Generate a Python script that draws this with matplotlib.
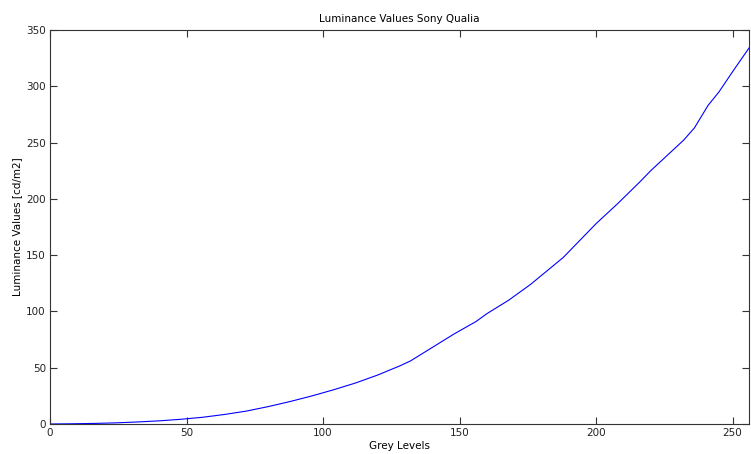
import matplotlib
matplotlib.use('Agg')
import matplotlib.pyplot as plt

# measured luminance per grey level
grey = [0, 8, 16, 24, 32, 40, 48, 56, 64, 72, 80, 88, 96, 104, 112, 120,
        128, 132, 140, 148, 156, 160, 168, 176, 184, 188, 196, 200, 208, 216,
        220, 228, 232, 236, 238, 241, 245, 250, 256]
lum = [0, 0.2, 0.5, 1.0, 1.8, 2.8, 4.2, 6.0, 8.5, 11.5, 15.5, 20.0, 25.0, 30.5,
       36.5, 43.5, 51.5, 56.0, 68.0, 80.0, 91.0, 98.0, 110.0, 124.0, 140.0,
       148.0, 168.0, 178.0, 196.0, 215.0, 225.0, 243.0, 252.0, 263.0, 271.0,
       283.0, 295.0, 313.0, 334.0]

plt.rcParams['font.family'] = 'DejaVu Sans'
plt.rcParams['font.size'] = 7.5

fig = plt.figure(figsize=(7.51, 4.54), dpi=100)
ax = fig.add_axes([50/751, 30/454, 699/751, 394/454])
ax.plot(grey, lum, color='#0000ff', lw=0.8)
ax.set_xlim(0, 256)
ax.set_ylim(0, 350)
ax.set_xticks(range(0, 251, 50))
ax.set_yticks(range(0, 351, 50))
ax.tick_params(direction='in', top=True, right=True, length=5, width=0.8,
               colors='#333333', labelcolor='#222222', pad=3)
for s in ax.spines.values():
    s.set_color('#333333')
    s.set_linewidth(0.8)
ax.set_title('Luminance Values Sony Qualia', fontsize=7.5, pad=6)
ax.set_xlabel('Grey Levels', labelpad=2)
ax.set_ylabel('Luminance Values [cd/m2]', labelpad=3)
fig.savefig('out.png', dpi=100)
